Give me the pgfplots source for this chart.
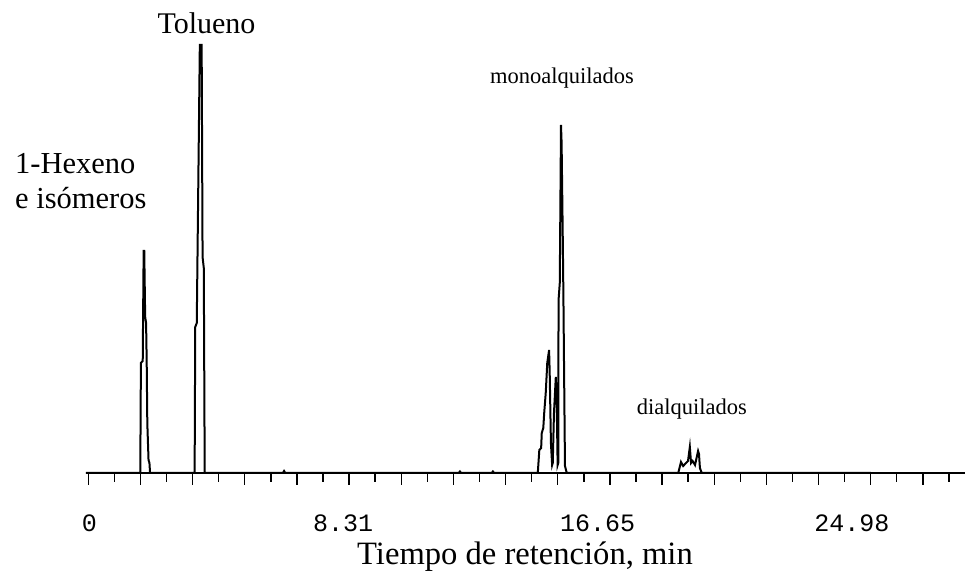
\documentclass[border=0pt]{standalone}
\usepackage{fontspec}
\setmainfont{Liberation Serif}
\setmonofont{Liberation Mono}
\usepackage{pgfplots}
\usepackage{pgfplotstable}
\pgfplotsset{compat=1.18}

% Detector signal (arbitrary units) against retention time (min)
\pgfplotstableread{
t h
-0.11 0
1.67 0
1.69 110
1.75 112
1.78 222
1.80 222
1.83 156
1.86 150
1.88 111
1.90 50
1.94 13
1.97 10
1.99 0
3.45 0
3.47 146
3.52 150
3.62 428
3.68 428
3.71 216
3.75 205
3.78 0
6.34 0
6.38 2
6.42 0
12.10 0
12.14 1.5
12.18 0
13.18 0
13.22 1.5
13.26 0
14.69 0
14.74 23
14.80 25
14.82 40
14.87 45
14.90 60
14.95 80
15.00 110
15.06 123
15.08 100
15.12 30
15.16 8
15.18 10
15.22 60
15.28 96
15.31 70
15.34 8
15.36 10
15.37 173
15.41 190
15.45 348
15.47 330
15.49 280
15.51 230
15.53 173
15.55 106
15.58 7
15.64 0
19.29 0
19.38 11
19.45 7
19.61 12
19.67 26
19.71 10
19.76 12
19.84 8
19.94 22
19.97 19
20.00 5
20.06 0
25.60 0
}\chromatogram

\begin{document}
\begin{tikzpicture}[x=1bp,y=1bp]
\useasboundingbox (0,0) rectangle (969,578);
\begin{axis}[
  at={(89.3bp,105bp)}, anchor=origin,
  x=30.53bp, y=1bp,
  xmin=-0.11, xmax=28.68, ymin=0, ymax=428,
  clip=false,
  axis x line=bottom, axis y line=none,
  x axis line style={-, line width=1.4bp},
  tick align=outside,
  major tick length=12bp, minor tick length=9bp,
  tick style={black, line width=1.4bp},
  xtick={-0.033,1.675,3.384,5.092,6.801,8.509,10.217,11.926,13.634,15.343,17.051,18.759,20.468,22.176,23.885,25.593,27.301},
  minor xtick={0.821,2.530,4.238,5.946,7.655,9.363,11.072,12.780,14.488,16.197,17.905,19.614,21.322,23.030,24.739,26.447,28.156},
  xticklabels={},
  extra x ticks={0,8.31,16.65,24.98},
  extra x tick labels={0,8.31,16.65,24.98},
  extra x tick style={major tick length=0pt, tick style={draw=none},
    xticklabel style={font=\ttfamily\fontsize{25bp}{30bp}\selectfont, anchor=north, yshift=-38bp}},
]
\addplot[black, line width=2bp, line join=miter] table[x=t, y=h] {\chromatogram};
\end{axis}

\node[anchor=base, inner sep=0, font=\fontsize{30bp}{36bp}\selectfont] at (206.5,544.7) {Tolueno};
\node[anchor=base west, inner sep=0, font=\fontsize{30.5bp}{36bp}\selectfont] at (15,404.7) {1-Hexeno};
\node[anchor=base west, inner sep=0, font=\fontsize{30.5bp}{36bp}\selectfont] at (15,369.7) {e isómeros};
\node[anchor=base west, inner sep=0, font=\fontsize{22.5bp}{27bp}\selectfont] at (490,494) {monoalquilados};
\node[anchor=base west, inner sep=0, font=\fontsize{22.5bp}{27bp}\selectfont] at (636.7,163) {dialquilados};
\node[anchor=base, inner sep=0, font=\fontsize{32.6bp}{39bp}\selectfont] at (525,13) {Tiempo de retención, min};
\end{tikzpicture}
\end{document}
